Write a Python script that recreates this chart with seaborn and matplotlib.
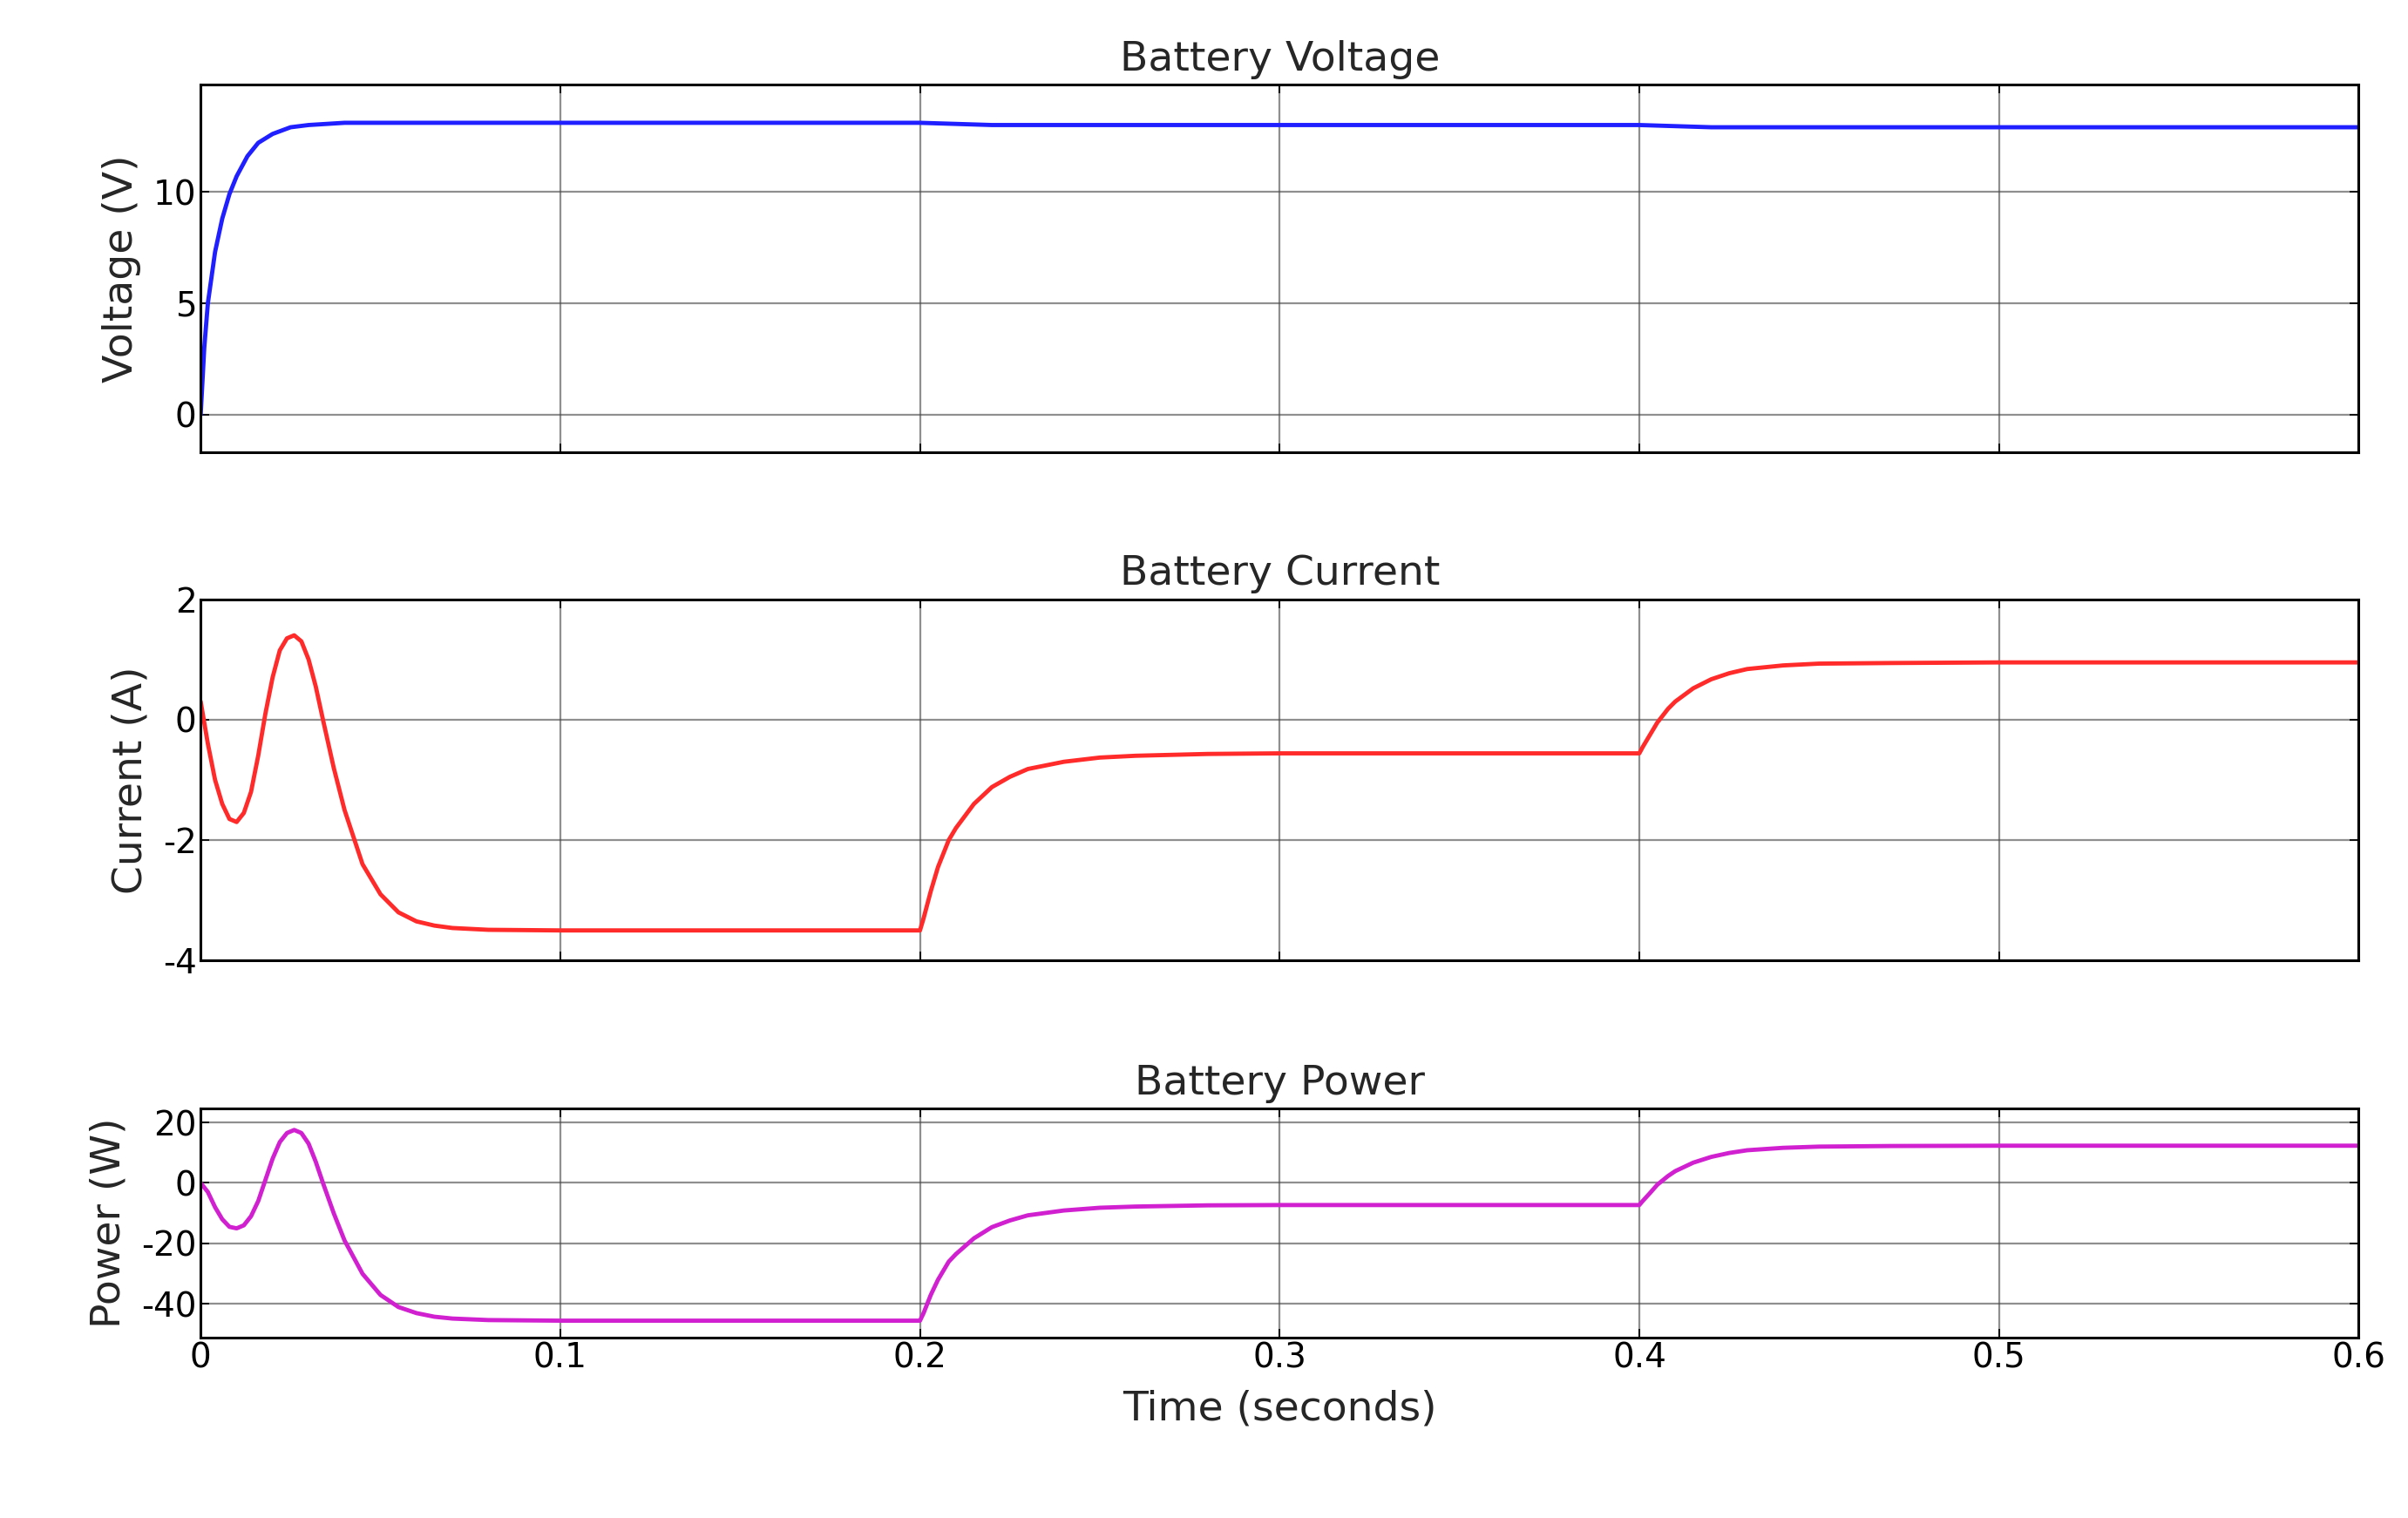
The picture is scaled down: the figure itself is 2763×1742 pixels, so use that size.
import matplotlib
matplotlib.use("Agg")
import matplotlib.pyplot as plt
import seaborn as sns

sns.set_theme(style="white")
plt.rcParams['font.family'] = ['DejaVu Sans']
plt.rcParams['axes.unicode_minus'] = False

t_v = [0, 0.001, 0.002, 0.004, 0.006, 0.008, 0.01, 0.013, 0.016, 0.02, 0.025, 0.03, 0.04, 0.05, 0.2, 0.22, 0.4, 0.42, 0.6]
volt = [0, 3.0, 5.0, 7.3, 8.8, 9.9, 10.7, 11.6, 12.2, 12.6, 12.9, 13.0, 13.1, 13.1, 13.1, 13.0, 13.0, 12.9, 12.9]

t_i = [0, 0.002, 0.004, 0.006, 0.008, 0.010, 0.012, 0.014, 0.016, 0.018, 0.020, 0.022, 0.024, 0.026, 0.028,
       0.030, 0.032, 0.034, 0.037, 0.040, 0.045, 0.050, 0.055, 0.060, 0.065, 0.070, 0.08, 0.1,
       0.2, 0.201, 0.203, 0.205, 0.208, 0.21, 0.215, 0.22, 0.225, 0.23, 0.24, 0.25, 0.26, 0.28, 0.3,
       0.4, 0.401, 0.403, 0.405, 0.408, 0.41, 0.415, 0.42, 0.425, 0.43, 0.44, 0.45, 0.47, 0.5, 0.6]
curr = [0.3, -0.4, -1.0, -1.4, -1.65, -1.7, -1.55, -1.2, -0.6, 0.1, 0.7, 1.15, 1.35, 1.4, 1.3,
        1.0, 0.55, 0.0, -0.8, -1.5, -2.4, -2.9, -3.2, -3.35, -3.42, -3.46, -3.49, -3.5,
        -3.5, -3.3, -2.85, -2.45, -2.0, -1.8, -1.4, -1.12, -0.95, -0.82, -0.7, -0.63, -0.6, -0.57, -0.56,
        -0.56, -0.45, -0.25, -0.05, 0.18, 0.3, 0.52, 0.67, 0.77, 0.84, 0.9, 0.93, 0.94, 0.95, 0.95]
powr = [0, -3, -8, -12, -14.5, -15, -14, -11, -6, 1, 8, 13.5, 16.5, 17.5, 16.5,
        13, 7, 0, -10, -19, -30, -37, -41, -43, -44.2, -44.8, -45.3, -45.5,
        -45.5, -43, -37, -32, -26, -23.5, -18.3, -14.6, -12.4, -10.7, -9.1, -8.2, -7.8, -7.4, -7.3,
        -7.3, -5.9, -3.3, -0.6, 2.3, 3.9, 6.7, 8.6, 9.9, 10.8, 11.6, 12.0, 12.2, 12.3, 12.3]

fig = plt.figure(figsize=(27.63, 17.42), dpi=100)
W, H = 1560, 983
def box(l, t, r, b):
    return [l / W, 1 - b / H, (r - l) / W, (b - t) / H]

ax1 = fig.add_axes(box(130, 55, 1528, 293))
ax2 = fig.add_axes(box(130, 388, 1528, 622))
ax3 = fig.add_axes(box(130, 718, 1528, 866))

sns.lineplot(x=t_v, y=volt, ax=ax1, color='#1f1fff', lw=3.5)
sns.lineplot(x=t_i, y=curr, ax=ax2, color='#ff2a2a', lw=3.5)
sns.lineplot(x=t_i, y=powr, ax=ax3, color='#d020d0', lw=3.5)

specs = [
    (ax1, 'Battery Voltage', 'Voltage (V)', (-1.7, 14.8), [0, 5, 10]),
    (ax2, 'Battery Current', 'Current (A)', (-4, 2), [-4, -2, 0, 2]),
    (ax3, 'Battery Power', 'Power (W)', (-51, 24.5), [-40, -20, 0, 20]),
]
for ax, title, ylabel, ylim, yt in specs:
    ax.set_xlim(0, 0.6)
    ax.set_ylim(*ylim)
    ax.set_yticks(yt)
    ax.set_xticks([0, 0.1, 0.2, 0.3, 0.4, 0.5, 0.6])
    ax.grid(True, color='#444444', lw=1.6, alpha=0.6)
    ax.set_title(title, fontsize=34, pad=12)
    ax.set_ylabel(ylabel, fontsize=34, labelpad=10)
    ax.tick_params(labelsize=28, direction='in', length=7, colors='black', left=True, bottom=True, right=True, top=True)
    for s in ax.spines.values():
        s.set_color('black'); s.set_linewidth(2.2)
    if ax is not ax3:
        ax.set_xticklabels([])
ax3.set_xticklabels(['0', '0.1', '0.2', '0.3', '0.4', '0.5', '0.6'])
ax3.set_xlabel('Time (seconds)', fontsize=34, labelpad=12)

fig.savefig('out.png', dpi=100)
